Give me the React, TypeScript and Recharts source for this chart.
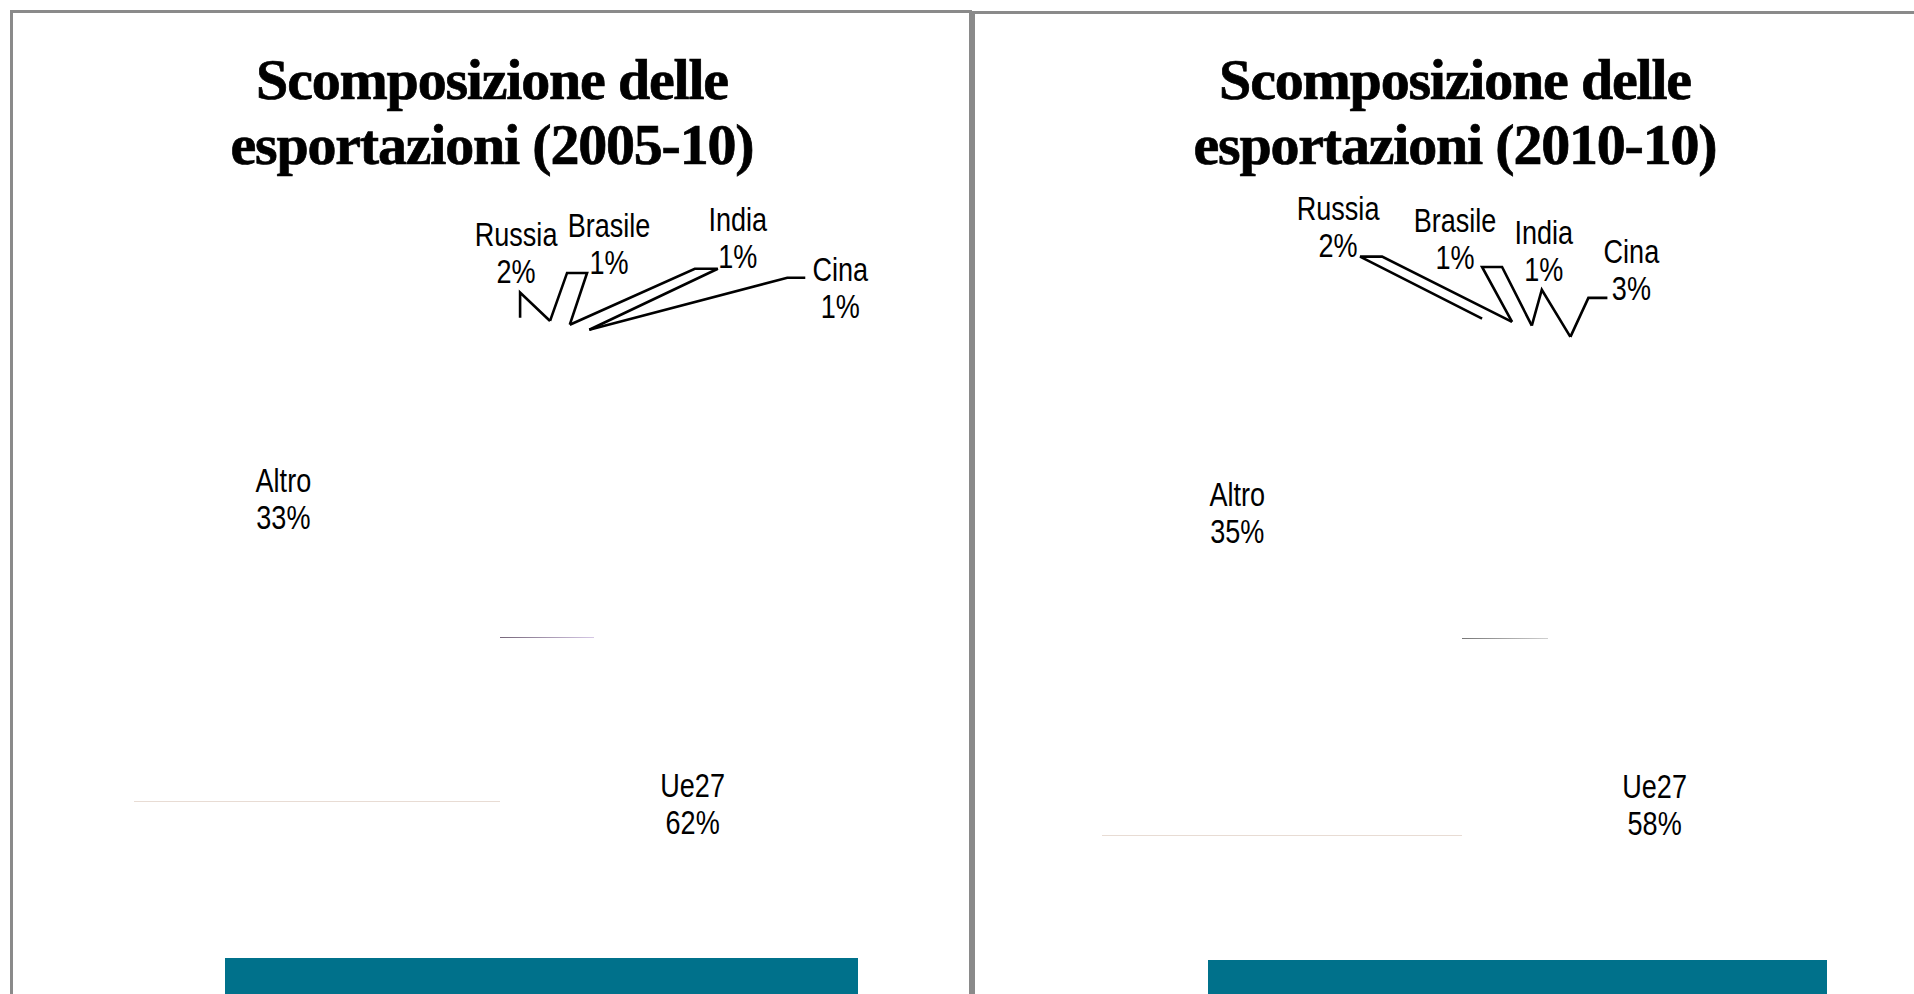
import React from "react";
import { PieChart, Pie, Cell } from "recharts";

// slice order as in the source sheet, clockwise from 12 o'clock
const countries = ["Russia", "Brasile", "India", "Cina", "Ue27", "Altro"];
const share2005 = [2, 1, 1, 1, 62, 33];
const share2010 = [2, 1, 1, 3, 58, 35];

const title2005 = ["Scomposizione delle", "esportazioni (2005-10)"];
const title2010 = ["Scomposizione delle", "esportazioni (2010-10)"];

// callouts for the thin slices, offsets from the slice's outer edge point
type Callout = { tx: number; ty: number; ex: number; ey: number; tick: number };

const callouts2005: Callout[] = [
  { tx: -4, ty: -72, ex: 0, ey: -25, tick: 0 },
  { tx: 59, ty: -84, ex: 17, ey: -48, tick: 20 },
  { tx: 168, ty: -94, ex: 125, ey: -56, tick: 23 },
  { tx: 251, ty: -49, ex: 198, ey: -52, tick: 18 },
];

const callouts2010: Callout[] = [
  { tx: -144, ty: -99, ex: -122, ey: -62, tick: 22 },
  { tx: -57, ty: -90, ex: -30, ey: -55, tick: 20 },
  { tx: 12, ty: -82, ex: 10, ey: -36, tick: 0 },
  { tx: 61, ty: -74, ex: 18, ey: -39, tick: 19 },
];

const LABEL_FONT = "'Liberation Sans', Arial, sans-serif";
const TITLE_FONT = "'Liberation Serif', 'DejaVu Serif', serif";
const TEAL = "#00718b";
const LINE_GAP = 37;
const INSIDE_SHIFT = 1.6; // degrees, inside labels sit slightly clockwise of the slice middle

function slicePoint(values: number[], i: number, cx: number, cy: number, r: number, shift = 0) {
  const total = values.reduce((a, b) => a + b, 0);
  let before = 0;
  for (let k = 0; k < i; k++) before += values[k];
  const a = ((((before + values[i] / 2) / total) * 360 + shift) * Math.PI) / 180;
  return [cx + r * Math.sin(a), cy - r * Math.cos(a)];
}

// narrow label text (squeezed horizontally, like the original condensed face)
function NarrowText({ x, y, children }: { x: number; y: number; children: React.ReactNode }) {
  return (
    <text
      transform={`translate(${x},${y}) scale(0.82,1)`}
      textAnchor="middle"
      style={{ fontFamily: LABEL_FONT, fontSize: 33, fill: "#000" }}
    >
      {children}
    </text>
  );
}

function makeLabel(values: number[], callouts: Callout[]) {
  return (props: any) => {
    const { cx, cy, outerRadius, index } = props;
    const name = countries[index];
    const pct = `${values[index]}%`;
    const c = callouts[index];

    if (!c) {
      const [x, y] = slicePoint(values, index, cx, cy, outerRadius * 0.8, INSIDE_SHIFT);
      return (
        <g key={`lbl-${index}`}>
          <NarrowText x={x} y={y - 9}>{name}</NarrowText>
          <NarrowText x={x} y={y + 28}>{pct}</NarrowText>
        </g>
      );
    }

    const [px, py] = slicePoint(values, index, cx, cy, outerRadius);
    const ex = px + c.ex;
    const ey = py + c.ey;
    const pts: number[][] = [[px, py], [ex, ey], [ex + c.tick, ey]];
    if (callouts[index + 1]) pts.push(slicePoint(values, index + 1, cx, cy, outerRadius));

    return (
      <g key={`lbl-${index}`}>
        <polyline
          points={pts.map((p) => p.join(",")).join(" ")}
          fill="none"
          stroke="#000"
          strokeWidth={2.6}
        />
        <NarrowText x={px + c.tx} y={py + c.ty}>{name}</NarrowText>
        <NarrowText x={px + c.tx} y={py + c.ty + LINE_GAP}>{pct}</NarrowText>
      </g>
    );
  };
}

function Title({ lines, center }: { lines: string[]; center: number }) {
  return (
    <div
      style={{
        position: "absolute",
        left: center - 350,
        top: 47,
        width: 700,
        textAlign: "center",
        fontFamily: TITLE_FONT,
        fontWeight: "bold",
        fontSize: 58,
        lineHeight: "65px",
        letterSpacing: -1.2,
        color: "#000",
        WebkitTextStroke: "0.7px #000",
      }}
    >
      {lines.map((l) => (
        <div key={l}>{l}</div>
      ))}
    </div>
  );
}

function ExportPie({
  values,
  callouts,
  left,
  width,
  cx,
  cy,
}: {
  values: number[];
  callouts: Callout[];
  left: number;
  width: number;
  cx: number;
  cy: number;
}) {
  const data = countries.map((name, i) => ({ name, value: values[i] }));
  return (
    <div style={{ position: "absolute", left, top: 0 }}>
      <PieChart width={width} height={994} margin={{ top: 0, right: 0, bottom: 0, left: 0 }}>
        <Pie
          data={data}
          dataKey="value"
          nameKey="name"
          cx={cx}
          cy={cy}
          outerRadius={320}
          startAngle={90}
          endAngle={-270}
          stroke="none"
          labelLine={false}
          label={makeLabel(values, callouts)}
          isAnimationActive={false}
        >
          {data.map((d) => (
            <Cell key={d.name} fill="#ffffff" fillOpacity={0} />
          ))}
        </Pie>
      </PieChart>
    </div>
  );
}

const abs = (s: React.CSSProperties): React.CSSProperties => ({ position: "absolute", ...s });

export default function App() {
  return (
    <div
      style={{
        position: "fixed",
        left: 0,
        top: 0,
        width: 1914,
        height: 994,
        overflow: "hidden",
        background: "#fff",
      }}
    >
      {/* panel frames */}
      <div style={abs({ left: 10, top: 10, width: 962, height: 1100, border: "3px solid #8a8a8a", boxSizing: "border-box" })} />
      <div style={abs({ left: 972, top: 11, width: 1000, height: 1100, border: "3px solid #8a8a8a", boxSizing: "border-box" })} />

      {/* faint remnants of the slice edges */}
      <div style={abs({ left: 500, top: 637, width: 94, height: 1, background: "linear-gradient(90deg,#76667a,#d6c8e6)" })} />
      <div style={abs({ left: 134, top: 801, width: 366, height: 1, background: "#e8dcd4" })} />
      <div style={abs({ left: 1462, top: 638, width: 86, height: 1, background: "linear-gradient(90deg,#777,#d0d0d0)" })} />
      <div style={abs({ left: 1102, top: 835, width: 360, height: 1, background: "#e8dcd4" })} />

      {/* footer bands */}
      <div style={abs({ left: 225, top: 958, width: 633, height: 40, background: TEAL })} />
      <div style={abs({ left: 1208, top: 960, width: 619, height: 40, background: TEAL })} />

      <Title lines={title2005} center={492} />
      <Title lines={title2010} center={1455} />

      <ExportPie values={share2005} callouts={callouts2005} left={0} width={962} cx={500} cy={637} />
      <ExportPie values={share2010} callouts={callouts2010} left={972} width={942} cx={490} cy={638} />
    </div>
  );
}
